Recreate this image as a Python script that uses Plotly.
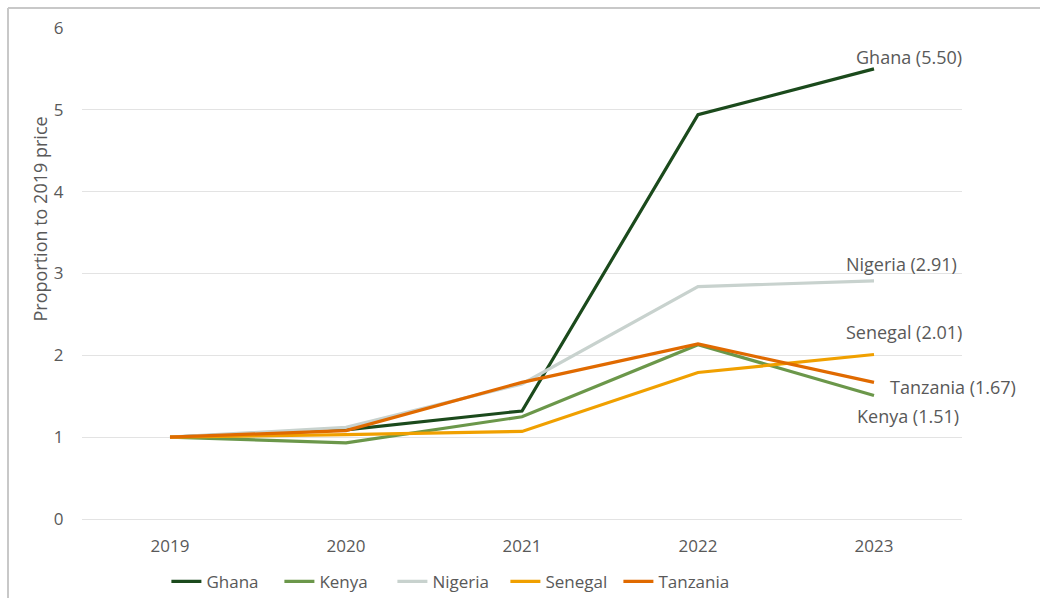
import plotly.graph_objects as go

years = [2019, 2020, 2021, 2022, 2023]
ghana = [1.00, 1.09, 1.32, 4.94, 5.50]
kenya = [1.00, 0.93, 1.25, 2.13, 1.51]
nigeria = [1.00, 1.12, 1.65, 2.84, 2.91]
senegal = [1.00, 1.03, 1.07, 1.79, 2.01]
tanzania = [1.00, 1.08, 1.67, 2.14, 1.67]

series = [
    ("Ghana", ghana, "#1b4a1c"),
    ("Kenya", kenya, "#6b974a"),
    ("Nigeria", nigeria, "#c8d2ce"),
    ("Senegal", senegal, "#f0a000"),
    ("Tanzania", tanzania, "#e06a00"),
]

# end-of-line label placement: (xanchor, xshift, yshift)
label_pos = {
    "Ghana": ("right", 90, 12),
    "Nigeria": ("right", 85, 17),
    "Senegal": ("right", 90, 23),
    "Tanzania": ("left", 14, -5),
    "Kenya": ("right", 87, -21),
}

FONT = "'Open Sans', sans-serif"
GREY = "#595959"

fig = go.Figure()
for name, vals, color in series:
    fig.add_trace(go.Scatter(
        x=years, y=vals, name=name, mode="lines",
        line=dict(color=color, width=3.2),
    ))

for name, vals, color in series:
    anchor, xs, ys = label_pos[name]
    fig.add_annotation(
        x=years[-1], y=vals[-1], text=f"{name} ({vals[-1]:.2f})",
        showarrow=False, xanchor=anchor, yanchor="middle",
        xshift=xs, yshift=ys,
        font=dict(family=FONT, size=18, color=GREY),
    )

# y-axis title
fig.add_annotation(
    xref="paper", yref="paper", x=-0.0477, y=0.61,
    text="Proportion to 2019 price", textangle=-90,
    showarrow=False, xanchor="center", yanchor="middle",
    font=dict(family=FONT, size=18, color=GREY),
)

# outer frame (left and top edges)
fig.add_shape(type="line", xref="paper", yref="paper",
              x0=-0.0841, x1=-0.0841, y0=-0.17, y1=1.0407,
              line=dict(color="#c8c8c8", width=2))
fig.add_shape(type="line", xref="paper", yref="paper",
              x0=-0.0841, x1=1.1, y0=1.0407, y1=1.0407,
              line=dict(color="#c8c8c8", width=2))

fig.update_layout(
    width=1040, height=598,
    margin=dict(l=82, r=78, t=28, b=79, autoexpand=False),
    paper_bgcolor="white", plot_bgcolor="white",
    font=dict(family=FONT, size=17, color=GREY),
    showlegend=True,
    legend=dict(
        orientation="h", xref="container", x=0.16, xanchor="left",
        yref="container", y=0.057, yanchor="top",
        font=dict(family=FONT, size=17, color=GREY),
        itemwidth=30, tracegroupgap=0, entrywidth=68,
    ),
    xaxis=dict(
        range=[2018.5, 2023.5], tickmode="array", tickvals=years,
        ticktext=[str(y) for y in years], automargin=False,
        showgrid=False, zeroline=False, showline=False,
        ticks="outside", ticklen=12, tickcolor="rgba(0,0,0,0)",
        tickfont=dict(size=17, color=GREY),
    ),
    yaxis=dict(
        range=[0, 6], dtick=1, showgrid=True, gridcolor="#e3e3e3", gridwidth=1,
        zeroline=True, zerolinecolor="#e3e3e3", zerolinewidth=1, automargin=False,
        showline=False, ticks="outside", ticklen=14, tickcolor="rgba(0,0,0,0)",
        tickfont=dict(size=17, color=GREY),
    ),
)

fig.write_html("out.html")
